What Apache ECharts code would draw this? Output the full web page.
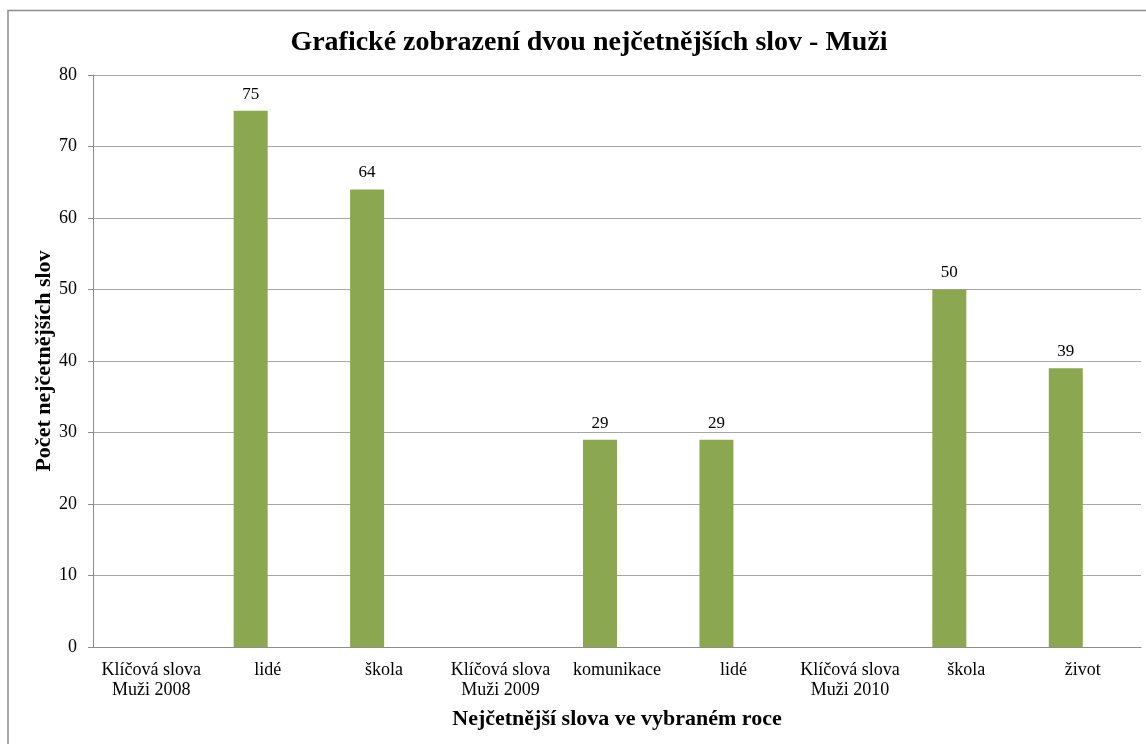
<!DOCTYPE html>
<html>
<head>
<meta charset="utf-8">
<script src="https://cdn.jsdelivr.net/npm/echarts@6/dist/echarts.min.js"></script>
<style>html,body{margin:0;padding:0;background:#fff}#c{width:1146px;height:744px}</style>
</head>
<body>
<div id="c"></div>
<script>
var categories = ['Klíčová slova\nMuži 2008', 'lidé', 'škola', 'Klíčová slova\nMuži 2009', 'komunikace', 'lidé', 'Klíčová slova\nMuži 2010', 'škola', 'život'];
var values = [null, 75, 64, null, 29, 29, null, 50, 39];
var emptySeries = [null, null, null, null, null, null, null, null, null];
var yTicks = {min: 0, max: 80, interval: 10};
var titleText = 'Grafické zobrazení dvou nejčetnějších slov - Muži';
var xName = 'Nejčetnější slova ve vybraném roce';
var yName = 'Počet nejčetnějších slov';

var serif = '"Liberation Serif", "Times New Roman", "DejaVu Serif", serif';
var chart = echarts.init(document.getElementById('c'), null, {renderer: 'canvas'});
chart.setOption({
  animation: false,
  backgroundColor: '#fff',
  textStyle: {fontFamily: serif},
  title: {
    text: titleText,
    left: 584, top: 24, textAlign: 'center',
    textStyle: {fontFamily: serif, fontSize: 28, fontWeight: 'bold', color: '#000'}
  },
  graphic: [{
    type: 'polyline',
    shape: {points: [[8, 760], [8, 10.5], [1160, 10.5]]},
    style: {stroke: '#8c8c8c', lineWidth: 1.5, fill: null}
  }],
  grid: {left: 93, right: 5, top: 75, bottom: 97, containLabel: false},
  xAxis: {
    type: 'category',
    data: categories,
    boundaryGap: true,
    name: xName,
    nameLocation: 'middle',
    nameGap: 61,
    nameMoveOverlap: false,
    nameTextStyle: {fontFamily: serif, fontSize: 22, fontWeight: 'bold', color: '#000'},
    axisLine: {show: true, lineStyle: {color: '#8c8c8c', width: 1}},
    axisTick: {show: false},
    axisLabel: {interval: 0, margin: 13, fontFamily: serif, fontSize: 18, color: '#000', lineHeight: 20}
  },
  yAxis: {
    type: 'value',
    min: yTicks.min, max: yTicks.max, interval: yTicks.interval,
    name: yName,
    nameLocation: 'middle',
    nameRotate: 90,
    nameGap: 38,
    nameMoveOverlap: false,
    nameTextStyle: {fontFamily: serif, fontSize: 22, fontWeight: 'bold', color: '#000'},
    axisLine: {show: true, lineStyle: {color: '#8c8c8c', width: 1}},
    axisTick: {show: true, length: 5, lineStyle: {color: '#8c8c8c'}},
    axisLabel: {margin: 16, fontFamily: serif, fontSize: 18, color: '#000'},
    splitLine: {show: true, lineStyle: {color: '#a6a6a6', width: 1}}
  },
  series: [{
    type: 'bar',
    data: values,
    barWidth: 34,
    barGap: '0%',
    itemStyle: {color: '#8ba750'},
    label: {show: true, position: 'top', distance: 8, fontFamily: serif, fontSize: 17, color: '#000'}
  }, {
    type: 'bar',
    data: emptySeries,
    barWidth: 34,
    barGap: '0%',
    itemStyle: {color: '#c0504d'}
  }]
});
</script>
</body>
</html>
